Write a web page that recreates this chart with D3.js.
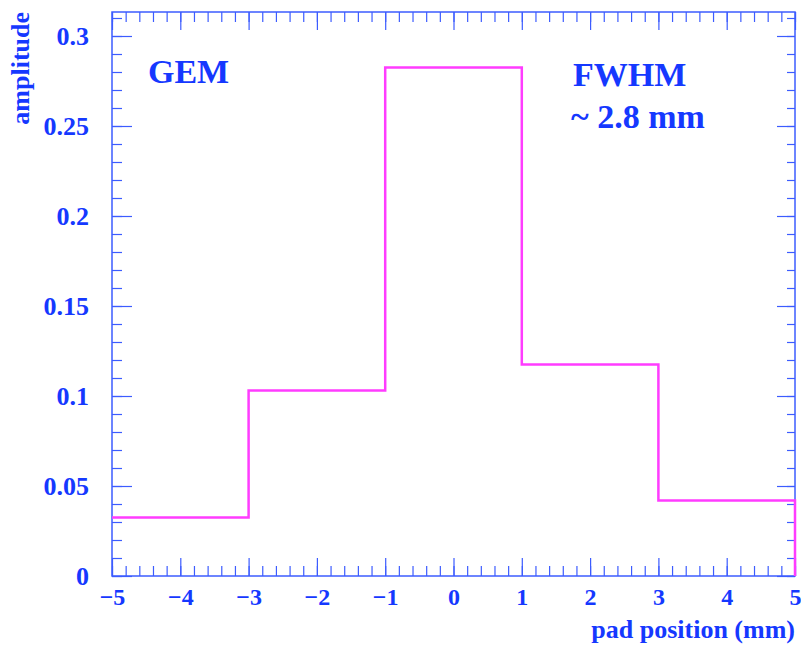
<!DOCTYPE html>
<html>
<head>
<meta charset="utf-8">
<script src="https://cdn.jsdelivr.net/npm/d3@7"></script>
<style>
  body { margin: 0; background: #fff; }
  svg text { font-family: "Liberation Serif", "Times New Roman", serif; font-weight: bold; }
</style>
</head>
<body>
<div id="chart"></div>
<script>
// histogram bins (pad edges) and amplitudes
const binEdges = [-5, -3, -1, 1, 3, 5];
const amplitudes = [0.0325, 0.103, 0.2825, 0.1175, 0.042];
const xTicks = [-5, -4, -3, -2, -1, 0, 1, 2, 3, 4, 5];
const yTicks = [0, 0.05, 0.1, 0.15, 0.2, 0.25, 0.3];
const yTickLabels = ["0", "0.05", "0.1", "0.15", "0.2", "0.25", "0.3"];

const width = 801, height = 650;
const margin = { top: 12, right: 6, bottom: 74, left: 112 };
const textBlue = "#1538ff";
const axisBlue = "#3c5cff";
const magenta = "#ff3cff";

const svg = d3.select("#chart").append("svg")
    .attr("width", width)
    .attr("height", height);

const x = d3.scaleLinear()
    .domain([-5, 5])
    .range([margin.left, width - margin.right]);

const y = d3.scaleLinear()
    .domain([0, 0.31333])
    .range([height - margin.bottom, margin.top]);

const minorX = d3.range(-5, 5.001, 0.2).map(v => +v.toFixed(2));
const minorY = d3.range(0, 0.3101, 0.01).map(v => +v.toFixed(3));

function styleAxis(g, size) {
    g.select(".domain").remove();
    g.selectAll("line").attr("stroke", axisBlue).attr("stroke-width", 1.2);
    g.selectAll("text")
        .attr("fill", textBlue)
        .attr("font-size", size || 24)
        .attr("font-family", "Liberation Serif, serif")
        .attr("font-weight", "bold");
}

// bottom axis: minor then major
svg.append("g")
    .attr("transform", `translate(0,${y(0)})`)
    .call(d3.axisBottom(x).tickValues(minorX).tickSize(-10).tickFormat(""))
    .call(styleAxis);
svg.append("g")
    .attr("transform", `translate(0,${y(0)})`)
    .call(d3.axisBottom(x).tickValues(xTicks).tickSize(-18).tickPadding(12)
        .tickFormat(d => d < 0 ? "\u2212" + Math.abs(d) : d))
    .call(styleAxis, 24);

// top axis
svg.append("g")
    .attr("transform", `translate(0,${margin.top})`)
    .call(d3.axisTop(x).tickValues(minorX).tickSize(-10).tickFormat(""))
    .call(styleAxis);
svg.append("g")
    .attr("transform", `translate(0,${margin.top})`)
    .call(d3.axisTop(x).tickValues(xTicks).tickSize(-18).tickFormat(""))
    .call(styleAxis);

// left axis
svg.append("g")
    .attr("transform", `translate(${margin.left},0)`)
    .call(d3.axisLeft(y).tickValues(minorY).tickSize(-10).tickFormat(""))
    .call(styleAxis);
svg.append("g")
    .attr("transform", `translate(${margin.left},0)`)
    .call(d3.axisLeft(y).tickValues(yTicks).tickSize(-20).tickPadding(23)
        .tickFormat((d, i) => yTickLabels[i]))
    .call(styleAxis, 26);

// right axis
svg.append("g")
    .attr("transform", `translate(${width - margin.right},0)`)
    .call(d3.axisRight(y).tickValues(minorY).tickSize(-8).tickFormat(""))
    .call(styleAxis);
svg.append("g")
    .attr("transform", `translate(${width - margin.right},0)`)
    .call(d3.axisRight(y).tickValues(yTicks).tickSize(-18).tickFormat(""))
    .call(styleAxis);

// frame
svg.append("rect")
    .attr("x", x(-5))
    .attr("y", y.range()[1])
    .attr("width", x(5) - x(-5))
    .attr("height", y(0) - y.range()[1])
    .attr("fill", "none")
    .attr("stroke", axisBlue)
    .attr("stroke-width", 1.5);

// step histogram outline
const pts = [];
amplitudes.forEach((a, i) => {
    pts.push([binEdges[i], a]);
    pts.push([binEdges[i + 1], a]);
});
pts.push([binEdges[binEdges.length - 1], 0]);

svg.append("path")
    .datum(pts)
    .attr("fill", "none")
    .attr("stroke", magenta)
    .attr("stroke-width", 2.5)
    .attr("d", d3.line().x(d => x(d[0])).y(d => y(d[1])));

// axis titles
svg.append("text")
    .attr("transform", `translate(29,${margin.top}) rotate(-90)`)
    .attr("text-anchor", "end")
    .attr("fill", textBlue)
    .attr("font-size", 26)
    .text("amplitude");

svg.append("text")
    .attr("x", x(5))
    .attr("y", 638)
    .attr("text-anchor", "end")
    .attr("fill", textBlue)
    .attr("font-size", 26)
    .text("pad position (mm)");

// annotations
svg.append("text")
    .attr("x", 148)
    .attr("y", 83)
    .attr("fill", textBlue)
    .attr("font-size", 34)
    .text("GEM");

svg.append("text")
    .attr("x", 573)
    .attr("y", 86)
    .attr("fill", textBlue)
    .attr("font-size", 34)
    .text("FWHM");

svg.append("text")
    .attr("x", 571)
    .attr("y", 128)
    .attr("fill", textBlue)
    .attr("font-size", 34)
    .text("~ 2.8 mm");
</script>
</body>
</html>
